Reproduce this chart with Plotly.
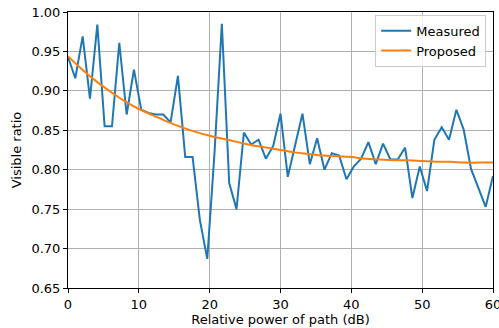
import plotly.graph_objects as go

# Relative power of path (dB) for measured series
x_measured = [0, 1.03, 2.07, 3.10, 4.14, 5.17, 6.21, 7.24, 8.28, 9.31, 10.34, 11.38, 12.41,
              13.45, 14.48, 15.52, 16.55, 17.59, 18.62, 19.66, 20.69, 21.72, 22.76, 23.79,
              24.83, 25.86, 26.90, 27.93, 28.97, 30.00, 31.03, 32.07, 33.10, 34.14, 35.17,
              36.21, 37.24, 38.28, 39.31, 40.34, 41.38, 42.41, 43.45, 44.48, 45.52, 46.55,
              47.59, 48.62, 49.66, 50.69, 51.72, 52.76, 53.79, 54.83, 55.86, 56.90, 57.93,
              58.97, 60.00]
measured = [0.943, 0.916, 0.969, 0.890, 0.984, 0.855, 0.855, 0.961, 0.870, 0.927, 0.876,
            0.872, 0.870, 0.870, 0.860, 0.919, 0.816, 0.816, 0.736, 0.687, 0.822, 0.985,
            0.783, 0.750, 0.847, 0.832, 0.838, 0.814, 0.830, 0.871, 0.791, 0.831, 0.871,
            0.807, 0.840, 0.800, 0.821, 0.818, 0.788, 0.804, 0.814, 0.835, 0.807, 0.833,
            0.813, 0.813, 0.828, 0.764, 0.804, 0.773, 0.838, 0.854, 0.838, 0.876, 0.851,
            0.801, 0.778, 0.753, 0.792]

x_proposed = [0, 2, 4, 6, 8, 10, 12, 14, 16, 18, 20, 22, 24, 26, 28, 30, 32, 34, 36, 38, 40,
              42, 44, 46, 48, 50, 52, 54, 56, 58, 60]
proposed = [0.944, 0.927, 0.912, 0.899, 0.887, 0.877, 0.869, 0.861, 0.854, 0.848, 0.843,
            0.839, 0.835, 0.831, 0.828, 0.825, 0.822, 0.820, 0.818, 0.817, 0.816, 0.814,
            0.813, 0.812, 0.812, 0.811, 0.810, 0.810, 0.809, 0.809, 0.809]

x_ticks = [0, 10, 20, 30, 40, 50, 60]
y_ticks = [0.65, 0.70, 0.75, 0.80, 0.85, 0.90, 0.95, 1.00]

FONT = "DejaVu Sans"

fig = go.Figure()
fig.add_trace(go.Scatter(x=x_measured, y=measured, mode="lines", name="Measured",
                         line=dict(color="#1f77b4", width=2)))
fig.add_trace(go.Scatter(x=x_proposed, y=proposed, mode="lines", name="Proposed",
                         line=dict(color="#ff7f0e", width=2, shape="spline")))

axis_common = dict(showline=True, linecolor="black", linewidth=1, mirror=True,
                   showgrid=True, gridcolor="#b0b0b0", gridwidth=1,
                   ticks="outside", ticklen=4, tickcolor="black", tickwidth=1,
                   zeroline=False, ticklabeloverflow="allow", automargin=False,
                   tickfont=dict(family=FONT, size=13, color="black"))

fig.update_xaxes(range=[0, 60], tickvals=x_ticks, ticktext=[str(v) for v in x_ticks],
                 title=dict(text="Relative power of path (dB)",
                            font=dict(family=FONT, size=13, color="black"), standoff=4),
                 **axis_common)
fig.update_yaxes(range=[0.65, 1.00], tickvals=y_ticks, ticktext=[f"{v:.2f}" for v in y_ticks],
                 title=dict(text="Visible ratio",
                            font=dict(family=FONT, size=13, color="black"), standoff=6),
                 **axis_common)

fig.update_layout(
    width=499, height=328,
    margin=dict(l=68, r=6, t=12, b=40),
    plot_bgcolor="white", paper_bgcolor="white",
    font=dict(family=FONT, size=13, color="black"),
    legend=dict(x=0.984, y=0.99, xanchor="right", yanchor="top",
                bgcolor="rgba(255,255,255,0.8)", bordercolor="#cccccc", borderwidth=1,
                font=dict(family=FONT, size=13, color="black"), tracegroupgap=0,
                itemwidth=30),
    showlegend=True,
)

fig.write_html("out.html")
